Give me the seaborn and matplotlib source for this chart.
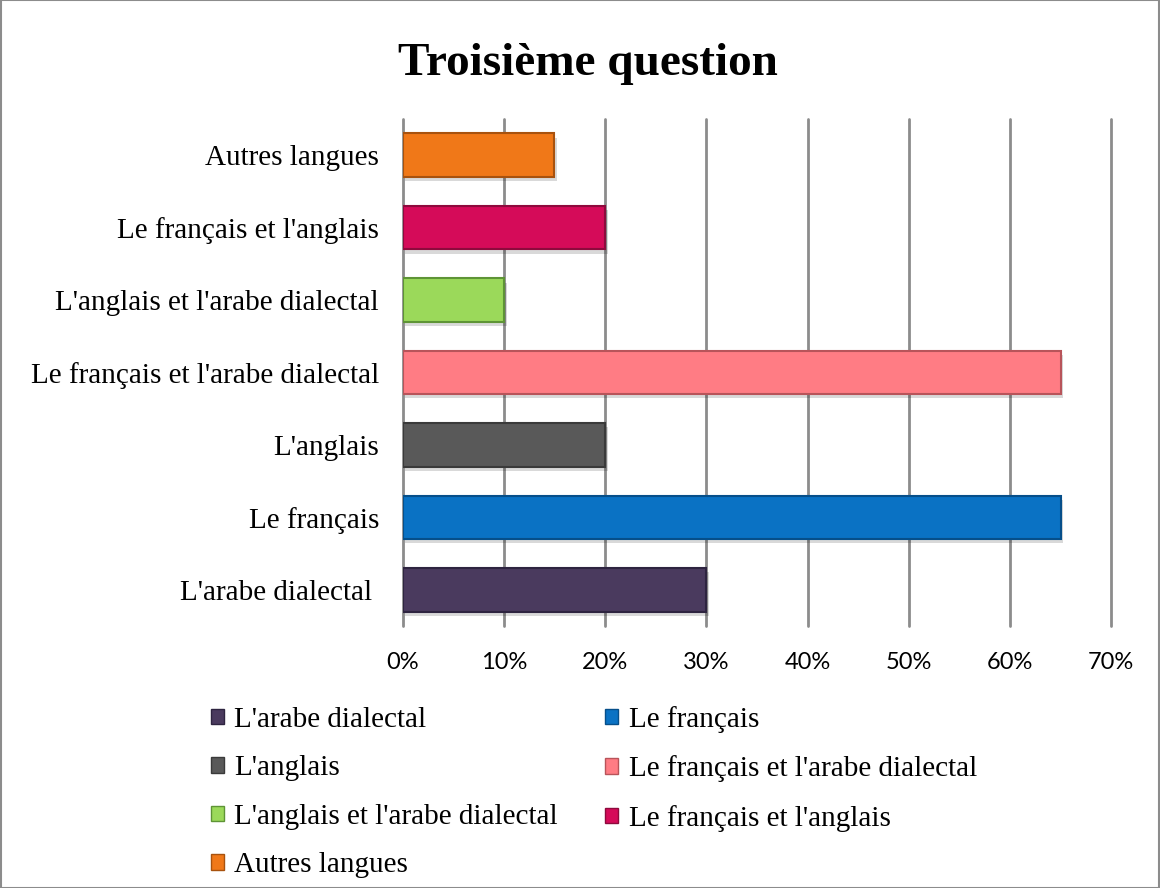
import matplotlib
matplotlib.use("Agg")
import matplotlib.pyplot as plt
import matplotlib.patheffects as pe
import seaborn as sns
from matplotlib.patches import Patch, Rectangle
from matplotlib.ticker import FuncFormatter

# Data
categories = ["Autres langues", "Le français et l'anglais", "L'anglais et l'arabe dialectal",
              "Le français et l'arabe dialectal", "L'anglais", "Le français", "L'arabe dialectal "]
values = [15, 20, 10, 65, 20, 65, 30]
colors = ["#F07818", "#D50B59", "#9BD95A", "#FF7C84", "#595959", "#0A72C4", "#4A3A5E"]
edge_colors = ["#A8520E", "#8E0A3D", "#5E9436", "#B8545A", "#3A3A3A", "#064F8A", "#2E2440"]
legend_order = ["L'arabe dialectal ", "L'anglais", "L'anglais et l'arabe dialectal", "Autres langues",
                "Le français", "Le français et l'arabe dialectal", "Le français et l'anglais"]
xticks = [0, 10, 20, 30, 40, 50, 60, 70]
title = "Troisième question"

sns.set_theme(style="white")
plt.rcParams['font.family'] = ['Liberation Serif', 'DejaVu Serif']
plt.rcParams['text.color'] = 'black'
plt.rcParams['xtick.color'] = 'black'
plt.rcParams['ytick.color'] = 'black'

fig = plt.figure(figsize=(11.6, 8.88), dpi=100)
ax = fig.add_axes([0.347, 0.295, 0.611, 0.571])

palette = dict(zip(categories, colors))
sns.barplot(x=values, y=categories, hue=categories, palette=palette, order=categories,
            hue_order=categories, dodge=False, width=0.6, legend=False, ax=ax, zorder=3,
            saturation=1)
for bar, ec in zip(ax.patches, edge_colors):
    bar.set_edgecolor(ec)
    bar.set_linewidth(1.5)
    bar.set_path_effects([pe.SimplePatchShadow(offset=(2, -3), shadow_rgbFace="#000000", alpha=0.15),
                          pe.Normal()])

ax.set_xlim(0, 70)
ax.set_xticks(xticks)
ax.xaxis.set_major_formatter(FuncFormatter(lambda v, p: f"{int(v)}%"))
ax.grid(axis="x", color="#8C8C8C", linewidth=2, zorder=0)
for gl in ax.get_xgridlines():
    gl.set_clip_on(False)
ax.grid(axis="y", visible=False)
for s in ax.spines.values():
    s.set_visible(False)
ax.set_xlabel("")
ax.set_ylabel("")
ax.tick_params(axis="y", length=0, pad=17, labelsize=21, labelcolor="black")
ax.tick_params(axis="x", length=0, pad=19, labelsize=17, labelcolor="black")
for lbl in ax.get_xticklabels():
    lbl.set_fontfamily(["Lato", "DejaVu Sans"])

fig.suptitle(title, x=0.507, y=0.952, fontsize=34, fontweight="bold", color="black")

handles = [Patch(facecolor=palette[c], edgecolor=edge_colors[categories.index(c)], label=c.strip())
           for c in legend_order]
leg = fig.legend(handles=handles, ncol=2, loc="upper left", bbox_to_anchor=(0.182, 0.205),
                 frameon=False, fontsize=21, handlelength=0.45, handleheight=0.45,
                 handletextpad=0.35, columnspacing=1.62, labelspacing=0.77, borderaxespad=0,
                 borderpad=0)
for t in leg.get_texts():
    t.set_color("black")

fig.patches.append(Rectangle((0.0005, 0.0005), 0.999, 0.999, transform=fig.transFigure,
                             fill=False, edgecolor="#8C8C8C", linewidth=1.5))

fig.savefig("out.png", dpi=100, facecolor="white")
